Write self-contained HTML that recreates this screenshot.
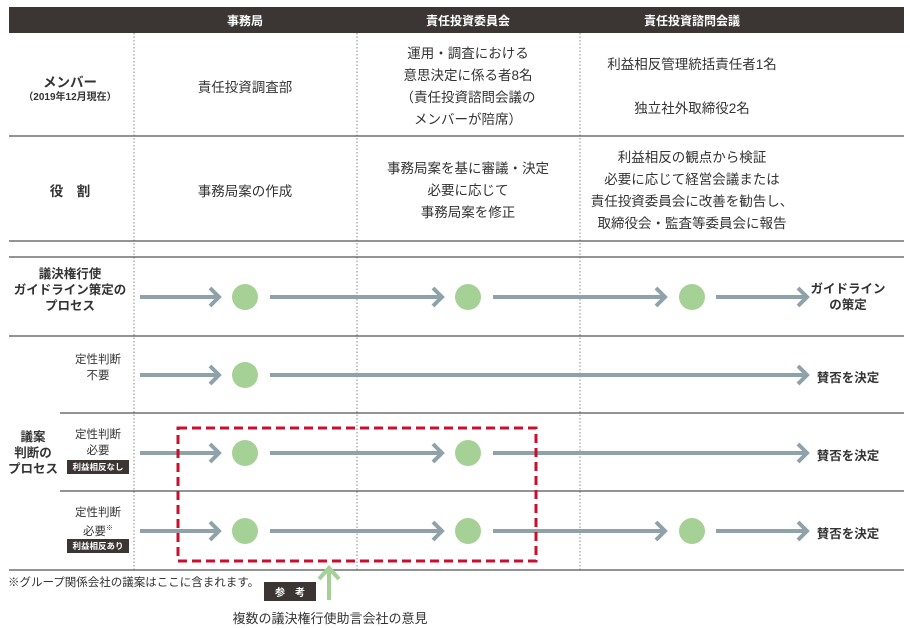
<!DOCTYPE html>
<html><head><meta charset="utf-8"><style>
body{margin:0;background:#fff;width:910px;height:628px;overflow:hidden;position:relative;font-family:"Liberation Sans","Noto Sans CJK JP",sans-serif;color:#333}
.t{position:absolute;text-align:center;white-space:nowrap}
.b{font-weight:bold}
</style></head><body>
<svg width="910" height="628" style="position:absolute;left:0;top:0">
<rect x="9" y="7" width="895" height="26" fill="#3b3634"/>
<g stroke="#888" stroke-width="1" stroke-dasharray="1.5,2">
<line x1="134" y1="33" x2="134" y2="570"/><line x1="357" y1="33" x2="357" y2="570"/><line x1="580" y1="33" x2="580" y2="570"/>
</g>
<g stroke="#555" stroke-width="1.2">
<line x1="9" y1="136" x2="904" y2="136"/><line x1="9" y1="241" x2="904" y2="241"/><line x1="9" y1="257" x2="904" y2="257"/><line x1="9" y1="336" x2="904" y2="336"/><line x1="60" y1="413" x2="904" y2="413"/><line x1="60" y1="491" x2="904" y2="491"/><line x1="9" y1="570" x2="904" y2="570"/>
</g>
<defs><g id="ah"><polyline points="-9,-9 0,0 -9,9" fill="none" stroke="#8fa2aa" stroke-width="4"/></g></defs>
<g stroke="#8fa2aa" stroke-width="4">
<line x1="140" y1="297" x2="219" y2="297"/><line x1="270" y1="297" x2="442" y2="297"/><line x1="493" y1="297" x2="665" y2="297"/><line x1="716" y1="297" x2="807" y2="297"/>
<line x1="140" y1="375" x2="219" y2="375"/><line x1="270" y1="375" x2="807" y2="375"/>
<line x1="140" y1="453" x2="219" y2="453"/><line x1="270" y1="453" x2="442" y2="453"/><line x1="493" y1="453" x2="807" y2="453"/>
<line x1="140" y1="531" x2="219" y2="531"/><line x1="270" y1="531" x2="442" y2="531"/><line x1="493" y1="531" x2="665" y2="531"/><line x1="716" y1="531" x2="807" y2="531"/>
</g>
<use href="#ah" x="219" y="297"/><use href="#ah" x="442" y="297"/><use href="#ah" x="665" y="297"/><use href="#ah" x="807" y="297"/>
<use href="#ah" x="219" y="375"/><use href="#ah" x="807" y="375"/>
<use href="#ah" x="219" y="453"/><use href="#ah" x="442" y="453"/><use href="#ah" x="807" y="453"/>
<use href="#ah" x="219" y="531"/><use href="#ah" x="442" y="531"/><use href="#ah" x="665" y="531"/><use href="#ah" x="807" y="531"/>
<g fill="#a6d196">
<circle cx="245" cy="297" r="13"/><circle cx="468" cy="297" r="13"/><circle cx="692" cy="297" r="13"/>
<circle cx="245" cy="375" r="13"/>
<circle cx="245" cy="453" r="13"/><circle cx="468" cy="453" r="13"/>
<circle cx="245" cy="531" r="13"/><circle cx="468" cy="531" r="13"/><circle cx="692" cy="531" r="13"/>
</g>
<rect x="178" y="428" width="358" height="133" fill="none" stroke="#c8102e" stroke-width="3" stroke-dasharray="9,5"/>
<line x1="329" y1="600" x2="329" y2="569" stroke="#a6d196" stroke-width="4"/>
<polyline points="319,579 329,568 339,579" fill="none" stroke="#a6d196" stroke-width="4"/>
<rect x="264" y="582" width="52" height="19" fill="#3b3634"/>
<rect x="67" y="460" width="62" height="14" fill="#3b3634"/>
<rect x="67" y="539" width="62" height="14" fill="#3b3634"/>
</svg>
<div class="t b" style="left:145px;top:12px;width:200px;font-size:12px;color:#fff">事務局</div>
<div class="t b" style="left:368px;top:12px;width:200px;font-size:12px;color:#fff">責任投資委員会</div>
<div class="t b" style="left:592px;top:12px;width:200px;font-size:12px;color:#fff">責任投資諮問会議</div>
<div class="t b" style="left:10px;top:71px;width:120px;font-size:13.5px">メンバー</div>
<div class="t b" style="left:10px;top:88px;width:120px;font-size:10px">（2019年12月現在）</div>
<div class="t" style="left:145px;top:76px;width:200px;font-size:13.5px">責任投資調査部</div>
<div class="t" style="left:368px;top:43px;width:200px;font-size:13.5px;line-height:22px">運用・調査における<br>意思決定に係る者8名<br>（責任投資諮問会議の<br>メンバーが陪席）</div>
<div class="t" style="left:592px;top:54px;width:200px;font-size:13.5px;line-height:22px">利益相反管理統括責任者1名<br><br>独立社外取締役2名</div>
<div class="t b" style="left:10px;top:180px;width:120px;font-size:13.5px">役　割</div>
<div class="t" style="left:145px;top:180px;width:200px;font-size:13.5px">事務局案の作成</div>
<div class="t" style="left:368px;top:158px;width:200px;font-size:13.5px;line-height:22px">事務局案を基に審議・決定<br>必要に応じて<br>事務局案を修正</div>
<div class="t" style="left:580px;top:147px;width:224px;font-size:13.5px;line-height:22px">利益相反の観点から検証<br>必要に応じて経営会議または<br>責任投資委員会に改善を勧告し、<br>取締役会・監査等委員会に報告</div>
<div class="t b" style="left:5px;top:266px;width:130px;font-size:12.5px;line-height:16px">議決権行使<br>ガイドライン策定の<br>プロセス</div>
<div class="t b" style="left:805px;top:281px;width:86px;font-size:12.5px;line-height:16px">ガイドライン<br>の策定</div>
<div class="t b" style="left:805px;top:367px;width:86px;font-size:12.5px">賛否を決定</div>
<div class="t b" style="left:805px;top:445px;width:86px;font-size:12.5px">賛否を決定</div>
<div class="t b" style="left:805px;top:523px;width:86px;font-size:12.5px">賛否を決定</div>
<div class="t b" style="left:5px;top:429px;width:56px;font-size:12.5px;line-height:16px">議案<br>判断の<br>プロセス</div>
<div class="t" style="left:65px;top:352px;width:66px;font-size:11.5px;line-height:16px">定性判断<br>不要</div>
<div class="t" style="left:65px;top:427px;width:66px;font-size:11.5px;line-height:16px">定性判断<br>必要</div>
<div class="t b" style="left:67px;top:461px;width:62px;font-size:8.5px;color:#fff">利益相反なし</div>
<div class="t" style="left:65px;top:505px;width:66px;font-size:11.5px;line-height:16px">定性判断<br>必要<sup style="font-size:7px">※</sup></div>
<div class="t b" style="left:67px;top:540px;width:62px;font-size:8.5px;color:#fff">利益相反あり</div>
<div class="t" style="left:8px;top:574px;font-size:11.5px;text-align:left">※グループ関係会社の議案はここに含まれます。</div>
<div class="t b" style="left:264px;top:584px;width:52px;font-size:10px;color:#fff">参　考</div>
<div class="t" style="left:200px;top:608px;width:260px;font-size:13px">複数の議決権行使助言会社の意見</div>
</body></html>
